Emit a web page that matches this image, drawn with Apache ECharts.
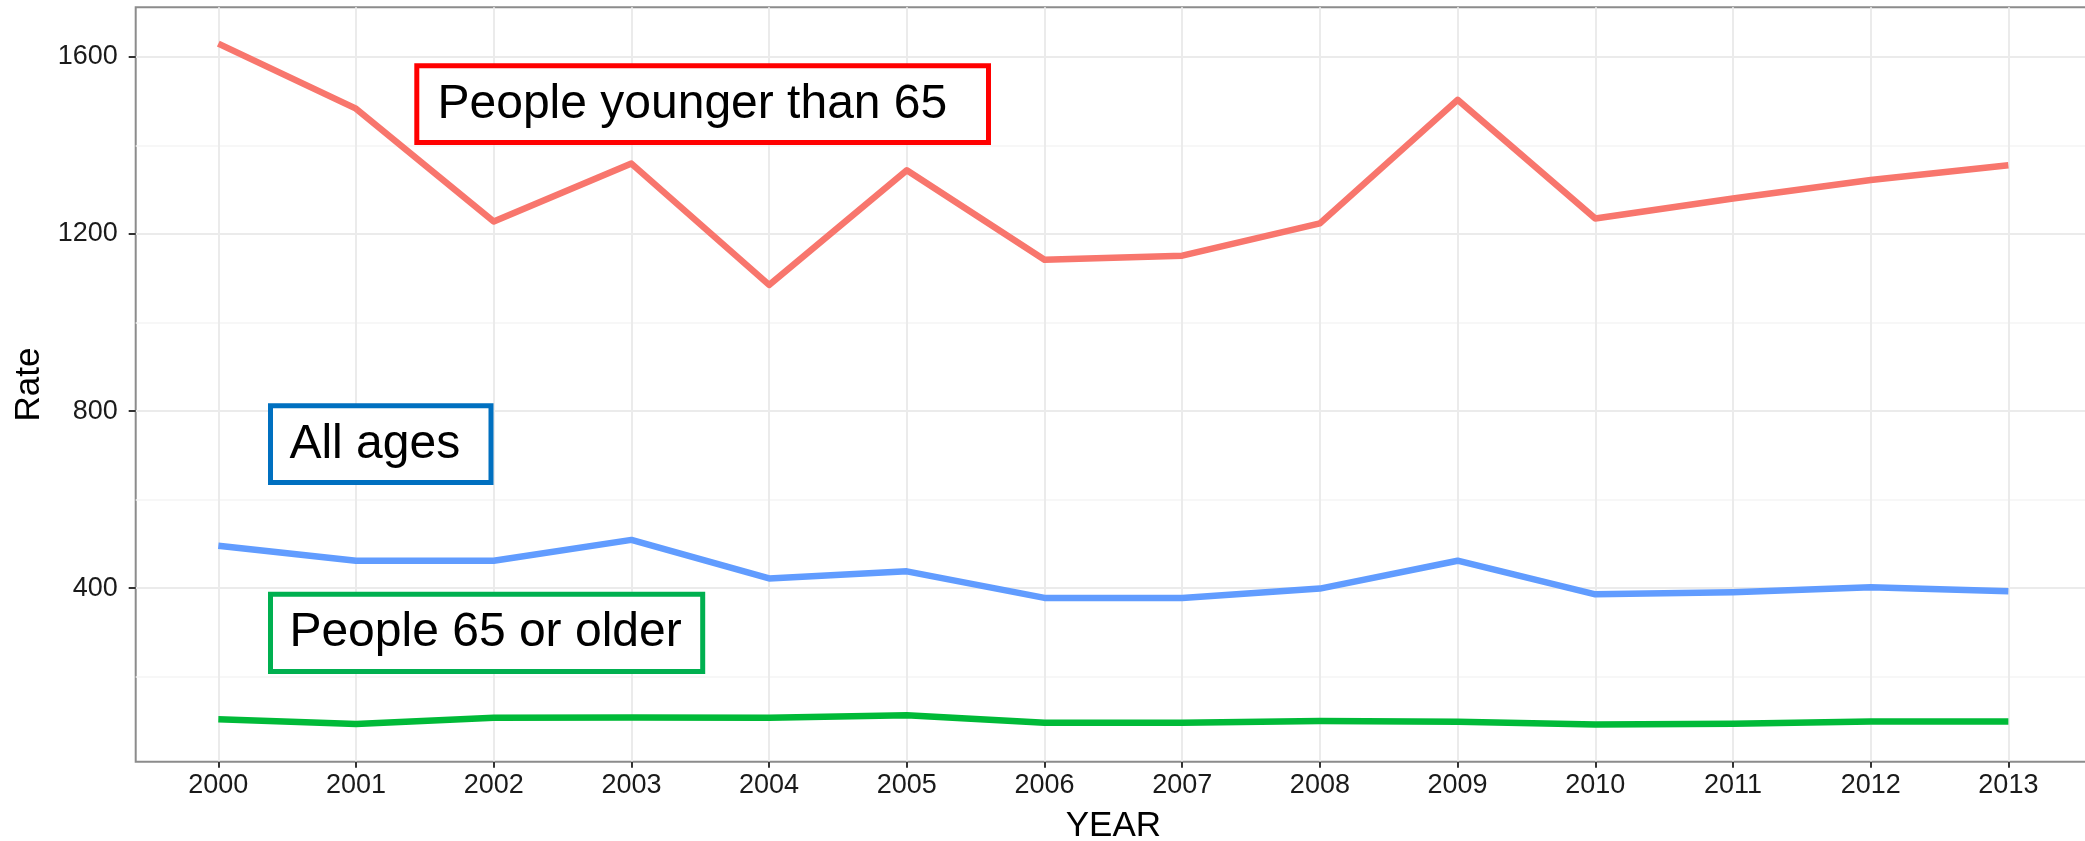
<!DOCTYPE html>
<html>
<head>
<meta charset="utf-8">
<script src="https://cdn.jsdelivr.net/npm/echarts@6/dist/echarts.min.js"></script>
<style>
  html, body { margin: 0; padding: 0; background: #fff; }
  #chart { width: 2085px; height: 841px; }
</style>
</head>
<body>
<div id="chart"></div>
<script>
// values
const years = [2000, 2001, 2002, 2003, 2004, 2005, 2006, 2007, 2008, 2009, 2010, 2011, 2012, 2013];
const youngerThan65 = [1630, 1483, 1228, 1359, 1085, 1344, 1142, 1151, 1224, 1503, 1235, 1280, 1322, 1355];
const allAges = [496, 462, 462, 509, 422, 438, 378, 378, 399, 462, 386, 391, 402, 393];
const olderThan65 = [104, 93, 107, 108, 107, 113, 96, 96, 100, 98, 92, 94, 99, 99];
const yTicks = [400, 800, 1200, 1600];
const yMinorTicks = [200, 600, 1000, 1400];

const FONT = '"Liberation Sans", Arial, sans-serif';

function pairs(values) {
    return years.map((y, i) => [y, values[i]]);
}

function lineSeries(name, values, color) {
    return {
        name: name,
        type: 'line',
        data: pairs(values),
        showSymbol: false,
        silent: true,
        lineStyle: { color: color, width: 6.5, cap: 'butt', join: 'round' },
        itemStyle: { color: color }
    };
}

const chart = echarts.init(document.getElementById('chart'), null, { renderer: 'canvas' });

const options = {
    animation: false,
    backgroundColor: '#fff',
    textStyle: { fontFamily: FONT },
    grid: {
        left: 135.7,
        top: 7.3,
        right: -6,
        bottom: 79.3,
        show: true,
        borderColor: '#8c8c8c',
        borderWidth: 2,
        backgroundColor: 'transparent',
        outerBoundsMode: 'none'
    },
    xAxis: {
        type: 'value',
        min: 1999.4,
        max: 2013.6,
        name: 'YEAR',
        nameLocation: 'middle',
        nameGap: 47,
        nameTextStyle: { fontSize: 35, color: '#000', fontFamily: FONT },
        axisLine: { show: false },
        axisTick: {
            show: true,
            length: 6,
            customValues: years,
            lineStyle: { color: '#333', width: 2 }
        },
        axisLabel: {
            customValues: years,
            fontSize: 27,
            color: '#1a1a1a',
            margin: 10,
            fontFamily: FONT,
            formatter: v => String(v)
        },
        splitLine: { show: true, lineStyle: { color: '#EBEBEB', width: 2 } }
    },
    yAxis: [{
        type: 'value',
        min: 8,
        max: 1712,
        name: 'Rate',
        nameLocation: 'middle',
        nameGap: 86,
        nameRotate: 90,
        nameTextStyle: { fontSize: 35, color: '#000', fontFamily: FONT },
        axisLine: { show: false },
        axisTick: {
            show: true,
            length: 7,
            customValues: yTicks,
            lineStyle: { color: '#333', width: 2 }
        },
        axisLabel: {
            customValues: yTicks,
            fontSize: 27,
            color: '#1a1a1a',
            margin: 18,
            fontFamily: FONT,
            formatter: v => String(v)
        },
        splitLine: { show: true, lineStyle: { color: '#EBEBEB', width: 2 } }
    }, {
        // minor grid lines only
        type: 'value',
        min: 8,
        max: 1712,
        position: 'left',
        axisLine: { show: false },
        axisLabel: { show: false },
        axisTick: { show: false, customValues: yMinorTicks },
        splitLine: { show: true, lineStyle: { color: '#F4F4F4', width: 1.5 } }
    }],
    series: [
        lineSeries('People younger than 65', youngerThan65, '#F8766D'),
        lineSeries('All ages', allAges, '#619CFF'),
        lineSeries('People 65 or older', olderThan65, '#00BA38')
    ],
    graphic: [
        {
            type: 'rect', z: 100,
            shape: { x: 416.8, y: 65.8, width: 571.7, height: 76.7 },
            style: { fill: '#fff', stroke: '#FF0000', lineWidth: 5 }
        },
        {
            type: 'text', z: 101, x: 437.5, y: 104.5,
            style: { text: 'People younger than 65', font: '48px ' + FONT, fill: '#000', verticalAlign: 'middle' }
        },
        {
            type: 'rect', z: 100,
            shape: { x: 270.5, y: 405.8, width: 220.5, height: 76.7 },
            style: { fill: '#fff', stroke: '#0070C0', lineWidth: 5 }
        },
        {
            type: 'text', z: 101, x: 289.4, y: 445,
            style: { text: 'All ages', font: '48px ' + FONT, fill: '#000', verticalAlign: 'middle' }
        },
        {
            type: 'rect', z: 100,
            shape: { x: 270.5, y: 594.2, width: 432.2, height: 77.3 },
            style: { fill: '#fff', stroke: '#00B050', lineWidth: 5 }
        },
        {
            type: 'text', z: 101, x: 289.4, y: 633,
            style: { text: 'People 65 or older', font: '48px ' + FONT, fill: '#000', verticalAlign: 'middle' }
        }
    ]
};

chart.setOption(options);
</script>
</body>
</html>
